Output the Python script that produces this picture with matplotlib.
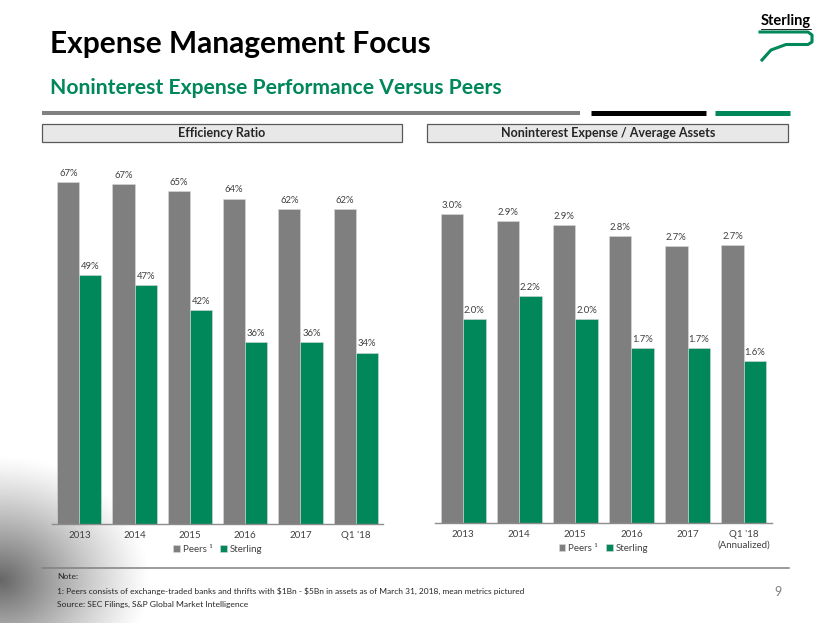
import numpy as np
import matplotlib.pyplot as plt
from matplotlib.patches import Rectangle

plt.rcParams['font.family'] = ['Lato', 'DejaVu Sans']

# data
years = ['2013', '2014', '2015', '2016', '2017', "Q1 '18"]
years_ann = ['2013', '2014', '2015', '2016', '2017', "Q1 '18\n(Annualized)"]
eff_peers = [67.0, 66.6, 65.2, 63.8, 61.8, 61.7]
eff_sterling = [48.8, 46.9, 42.0, 35.7, 35.7, 33.6]
nie_peers = [2.97, 2.90, 2.86, 2.76, 2.66, 2.67]
nie_sterling = [1.96, 2.18, 1.96, 1.68, 1.68, 1.56]

GRAY = '#7f7f7f'
GREEN = '#00875a'
TXT = '#404040'

W, H = 830, 623
fig = plt.figure(figsize=(8.3, 6.23), dpi=100)

# background layer in pixel coords (y down)
bg = fig.add_axes([0, 0, 1, 1], zorder=-10)
xx, yy = np.meshgrid(np.arange(W), np.arange(H))
d = np.sqrt((xx / 150.0) ** 2 + ((yy - 580) / 125.0) ** 2)
shade = np.clip(1 - d, 0, 1) ** 1.2 * 0.6
bg.imshow(1 - shade, cmap='gray', vmin=0, vmax=1, extent=[0, W, H, 0], aspect='auto')
bg.set_xlim(0, W)
bg.set_ylim(H, 0)
bg.axis('off')

# titles
bg.text(50, 53, 'Expense Management Focus', fontsize=21.5, fontweight='bold', color='black',
        va='baseline')
bg.text(50, 94, 'Noninterest Expense Performance Versus Peers', fontsize=15.2,
        fontweight='bold', color=GREEN, va='baseline')

# separator bar
bg.plot([42, 580], [113.3, 113.3], color='#808080', lw=2.9, solid_capstyle='butt')
bg.plot([591, 706], [113.3, 113.3], color='black', lw=3.6, solid_capstyle='butt')
bg.plot([715, 790], [113.3, 113.3], color=GREEN, lw=3.6, solid_capstyle='butt')

# logo
bg.text(761, 25, 'Sterling', fontsize=10.5, fontweight='bold', color='black', va='baseline')
bg.plot([761, 811], [28.5, 28.5], color='black', lw=0.6)
bg.plot([760, 808, 812, 812, 808, 786, 771, 762], [32, 32, 35, 42, 44.5, 44.5, 50, 60],
        color=GREEN, lw=2.2, solid_joinstyle='round')

# panel headers
for x0, x1, lab in [(41.7, 401.7, 'Efficiency Ratio'),
                    (427.3, 788.3, 'Noninterest Expense / Average Assets')]:
    bg.add_patch(Rectangle((x0, 124), x1 - x0, 17.7, facecolor='#e8e8e8',
                           edgecolor='#595959', lw=0.9))
    bg.text((x0 + x1) / 2, 133, lab, fontsize=9, fontweight='bold', color='#262626',
            ha='center', va='center')

# footer
bg.plot([41.7, 789], [567.7, 567.7], color='#808080', lw=1.1)
bg.text(57.3, 576.7, 'Note:', fontsize=6.1, color='#262626', va='center')
bg.text(57.3, 591.7, '1: Peers consists of exchange-traded banks and thrifts with \\$1Bn - \\$5Bn '
        'in assets as of March 31, 2018, mean metrics pictured',
        fontsize=6.0, color='#262626', va='center')
bg.text(57.3, 604.5, 'Source: SEC Filings, S&P Global Market Intelligence', fontsize=6.1,
        color='#262626', va='center')
bg.text(774, 592, '9', fontsize=9, color='#808080', va='center')


def panel(left, right, bottom, top, cats, peers, sterling, ymax, fmt):
    ax = fig.add_axes([left / W, 1 - bottom / H, (right - left) / W, (bottom - top) / H])
    ax.set_facecolor('none')
    x = np.arange(len(cats))
    w = 0.4
    b1 = ax.bar(x - w / 2, peers, w, color=GRAY, edgecolor='#d9d9d9', lw=0.4, label='Peers ¹')
    b2 = ax.bar(x + w / 2, sterling, w, color=GREEN, edgecolor='#d9d9d9', lw=0.4, label='Sterling')
    ax.bar_label(b1, labels=[fmt % v for v in peers], padding=3, fontsize=6.8, color=TXT)
    ax.bar_label(b2, labels=[fmt % v for v in sterling], padding=3, fontsize=6.8, color=TXT)
    ax.set_xlim(-0.5, len(cats) - 0.5)
    ax.set_ylim(0, ymax)
    ax.set_xticks(x)
    ax.set_xticklabels(cats, fontsize=7, color=TXT, va='top')
    ax.tick_params(axis='x', length=0, pad=5)
    ax.set_yticks([])
    for s in ['left', 'right', 'top']:
        ax.spines[s].set_visible(False)
    ax.spines['bottom'].set_color('#8c8c8c')
    ax.spines['bottom'].set_linewidth(1.0)
    ax.legend(loc='center', bbox_to_anchor=(0.5, -25.3 / (bottom - top)), ncol=2, frameon=False,
              fontsize=7, handlelength=0.7, handleheight=0.7, handletextpad=0.3,
              columnspacing=0.8, labelcolor=TXT)
    return ax


panel(51.7, 383.3, 524, 150, years, eff_peers, eff_sterling, 374 / 5.1, '%.0f%%')
panel(435, 771.7, 523.3, 150, years_ann, nie_peers, nie_sterling, 373.3 / 104.2, '%.1f%%')

fig.savefig('out.png', dpi=100)
